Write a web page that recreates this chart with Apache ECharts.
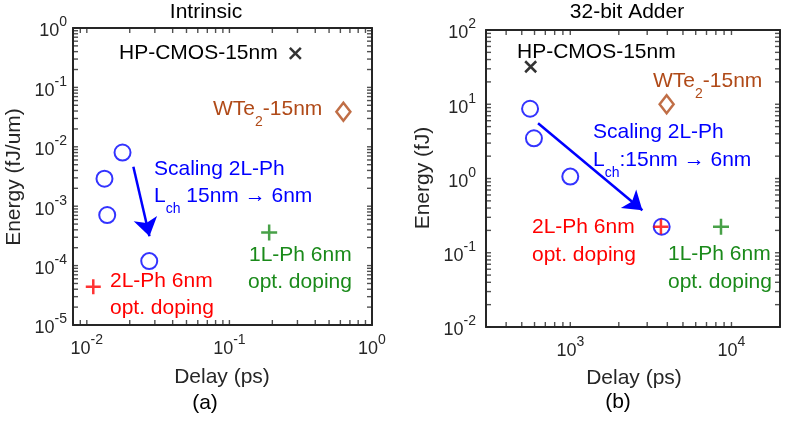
<!DOCTYPE html>
<html><head><meta charset="utf-8">
<script src="https://cdn.jsdelivr.net/npm/echarts@6/dist/echarts.min.js"></script>
<style>html,body{margin:0;padding:0;background:#fff}#c{width:787px;height:423px}</style>
</head><body><div id="c"></div>
<script>
// ---------- Panel (a): Intrinsic — delay (ps), energy (fJ/um) ----------
const aCmos = [[0.29, 0.375]];
const aWTe2 = [[0.63, 0.039]];
const a2LScaling = [[0.0178, 0.0080], [0.0133, 0.0029], [0.0139, 0.00071], [0.0274, 0.000119]];
const a2LOpt = [[0.0111, 0.000044]];
const a1LOpt = [[0.19, 0.00036]];
const aArrow = [[0.0212, 0.00462], [0.0275, 0.000313]];
// ---------- Panel (b): 32-bit Adder — delay (ps), energy (fJ) ----------
const bCmos = [[568, 32]];
const bWTe2 = [[3960, 10]];
const b2LScaling = [[563, 8.7], [595, 3.48], [1000, 1.06], [3690, 0.224]];
const b2LOpt = [[3650, 0.224]];
const b1LOpt = [[8610, 0.224]];
const bArrow = [[631, 5.54], [2800, 0.374]];
// ---------- axis ranges and tick labels (decade exponents) ----------
const aXRange = [0.008, 1], aYRange = [1e-5, 1];
const bXRange = [300, 20000], bYRange = [1e-2, 100];
const aXTickExp = [-2, -1, 0], aYTickExp = [-5, -4, -3, -2, -1, 0];
const bXTickExp = [3, 4], bYTickExp = [-2, -1, 0, 1, 2];

const FONT = 'Liberation Sans, Arial, Helvetica, sans-serif';
const AX = '#262626';
const BLUE = '#0000ff', RED = '#ff0000', GREEN = '#1a8a1a', BROWN = '#b04a18';
const L = Math.log10;

// log-decade tick positions (1..9 x 10^n) inside a range, in log10 units
function allTicks(range) {
  const out = [];
  const lo = Math.floor(L(range[0])), hi = Math.ceil(L(range[1]));
  for (let n = lo; n <= hi; n++) for (let k = 1; k <= 9; k++) {
    const v = k * Math.pow(10, n);
    if (v >= range[0] * 0.9999 && v <= range[1] * 1.0001) out.push(L(v));
  }
  return out;
}
const labelRich = {
  b: {fontSize: 18, lineHeight: 18, padding: [7, 0, 0, 0], fontFamily: FONT, color: AX},
  e: {fontSize: 14, lineHeight: 14, padding: [0, 0, 11, 0], fontFamily: FONT, color: AX}
};
function axis(grid, range, exps, pos, showLabel, margin) {
  const a = {
    type: 'value', gridIndex: grid, position: pos,
    min: L(range[0]), max: L(range[1]),
    splitLine: {show: false},
    axisLine: {show: true, onZero: false, lineStyle: {color: AX, width: 2}},
    axisTick: {show: false},
    axisLabel: {show: false}
  };
  if (showLabel) a.axisLabel = {show: true, customValues: exps, margin: margin,
    formatter: v => '{b|10}{e|' + Math.round(v) + '}', rich: labelRich};
  return a;
}
const toLog = arr => arr.map(p => [L(p[0]), L(p[1])]);
const XPATH = 'path://M0,0L10,10M10,0L0,10';
const PPATH = 'path://M5,0L5,10M0,5L10,5';

// inward ticks on all four frame sides, drawn as thin rect symbols placed by the axes' scales
function tickSeries(xi, yi, xr, yr) {
  const xs = allTicks(xr), ys = allTicks(yr);
  const x0 = L(xr[0]), x1 = L(xr[1]), y0 = L(yr[0]), y1 = L(yr[1]);
  const mk = (data, size, offset) => ({
    type: 'scatter', xAxisIndex: xi, yAxisIndex: yi, silent: true, clip: false,
    animation: false, z: 1, emphasis: {disabled: true},
    symbol: 'rect', symbolSize: size, symbolOffset: offset,
    itemStyle: {color: AX}, data: data
  });
  return [
    mk(xs.map(v => [v, y0]), [1.4, 5], [0, -2.5]),
    mk(xs.map(v => [v, y1]), [1.4, 5], [0, 2.5]),
    mk(ys.map(v => [x0, v]), [5, 1.4], [2.5, 0]),
    mk(ys.map(v => [x1, v]), [5, 1.4], [-2.5, 0])
  ];
}

function panelSeries(xi, yi, cmos, wte2, scal, opt2, opt1, arrow) {
  const base = {type: 'scatter', xAxisIndex: xi, yAxisIndex: yi, silent: true,
                emphasis: {disabled: true}, animation: false, z: 2};
  return [
    Object.assign({}, base, {data: toLog(cmos), symbol: XPATH, symbolSize: 11,
      itemStyle: {color: 'none', borderColor: '#000', borderWidth: 2.5}}),
    Object.assign({}, base, {data: toLog(wte2), symbol: 'diamond', symbolSize: [14, 18],
      itemStyle: {color: 'rgba(0,0,0,0)', borderColor: BROWN, borderWidth: 2.5}}),
    Object.assign({}, base, {data: toLog(scal), symbol: 'circle', symbolSize: 16,
      itemStyle: {color: 'rgba(0,0,0,0)', borderColor: BLUE, borderWidth: 2}}),
    Object.assign({}, base, {data: [], symbolSize: 1, itemStyle: {color: BLUE},
      markLine: {silent: true, animation: false, symbol: ['none', 'arrow'], symbolSize: 18,
        label: {show: false}, emphasis: {disabled: true},
        itemStyle: {color: BLUE},
        lineStyle: {color: BLUE, width: 2.5, type: 'solid'},
        data: [[{coord: [L(arrow[0][0]), L(arrow[0][1])]}, {coord: [L(arrow[1][0]), L(arrow[1][1])]}]]}}),
    Object.assign({}, base, {data: toLog(opt2), symbol: PPATH, symbolSize: 15,
      itemStyle: {color: 'none', borderColor: RED, borderWidth: 2.5}}),
    Object.assign({}, base, {data: toLog(opt1), symbol: PPATH, symbolSize: 16,
      itemStyle: {color: 'none', borderColor: GREEN, borderWidth: 2.5}})
  ];
}

const txtRich = (color) => ({
  n: {fontSize: 21, lineHeight: 21, fontFamily: FONT, fill: color},
  s: {fontSize: 14, lineHeight: 14, padding: [26, 0, 0, 0], fontFamily: FONT, fill: color}
});
function T(x, y, text, color, align, rot) {
  return {type: 'text', x: x, y: y, rotation: rot || 0, z: 100, silent: true,
    style: {text: text, rich: txtRich(color), fontSize: 21, fontFamily: FONT, fill: color,
            align: align || 'left', verticalAlign: 'middle'}};
}

const chart = echarts.init(document.getElementById('c'), null, {renderer: 'canvas'});
chart.setOption({
  animation: false,
  backgroundColor: '#fff',
  grid: [
    {left: 73, top: 28, width: 299, height: 297},
    {left: 486, top: 30, width: 294, height: 297}
  ],
  xAxis: [
    axis(0, aXRange, aXTickExp, 'bottom', true, 12),
    axis(0, aXRange, aXTickExp, 'top', false, 12),
    axis(1, bXRange, bXTickExp, 'bottom', true, 12),
    axis(1, bXRange, bXTickExp, 'top', false, 12)
  ],
  yAxis: [
    axis(0, aYRange, aYTickExp, 'left', true, 6),
    axis(0, aYRange, aYTickExp, 'right', false, 6),
    axis(1, bYRange, bYTickExp, 'left', true, 10),
    axis(1, bYRange, bYTickExp, 'right', false, 10)
  ],
  series: [].concat(
    tickSeries(0, 0, aXRange, aYRange),
    tickSeries(2, 2, bXRange, bYRange),
    panelSeries(0, 0, aCmos, aWTe2, a2LScaling, a2LOpt, a1LOpt, aArrow),
    panelSeries(2, 2, bCmos, bWTe2, b2LScaling, b2LOpt, b1LOpt, bArrow)
  ),
  graphic: [
    // panel (a)
    T(206, 12, '{n|Intrinsic}', '#000', 'center'),
    T(222, 377, '{n|Delay (ps)}', AX, 'center'),
    T(205, 403, '{n|(a)}', '#000', 'center'),
    T(14, 177, '{n|Energy (fJ/um)}', AX, 'center', Math.PI / 2),
    T(119, 53, '{n|HP-CMOS-15nm}', '#000'),
    T(213, 109, '{n|WTe}{s|2}{n|-15nm}', BROWN),
    T(154, 169.5, '{n|Scaling 2L-Ph}', BLUE),
    T(154, 196.5, '{n|L}{s|ch}{n| 15nm \u2192 6nm}', BLUE),
    T(249, 255, '{n|1L-Ph 6nm}', GREEN),
    T(248, 282.5, '{n|opt. doping}', GREEN),
    T(110, 281.5, '{n|2L-Ph 6nm}', RED),
    T(110, 308.5, '{n|opt. doping}', RED),
    // panel (b)
    T(627, 12, '{n|32-bit Adder}', '#000', 'center'),
    T(634, 378, '{n|Delay (ps)}', AX, 'center'),
    T(618, 402, '{n|(b)}', '#000', 'center'),
    T(423, 178, '{n|Energy (fJ)}', AX, 'center', Math.PI / 2),
    T(517, 52, '{n|HP-CMOS-15nm}', '#000'),
    T(653, 81, '{n|WTe}{s|2}{n|-15nm}', BROWN),
    T(593, 132, '{n|Scaling 2L-Ph}', BLUE),
    T(593, 160, '{n|L}{s|ch}{n|:15nm \u2192 6nm}', BLUE),
    T(532, 227.5, '{n|2L-Ph 6nm}', RED),
    T(532, 255, '{n|opt. doping}', RED),
    T(668, 254, '{n|1L-Ph 6nm}', GREEN),
    T(668, 282, '{n|opt. doping}', GREEN)
  ]
});
</script></body></html>
